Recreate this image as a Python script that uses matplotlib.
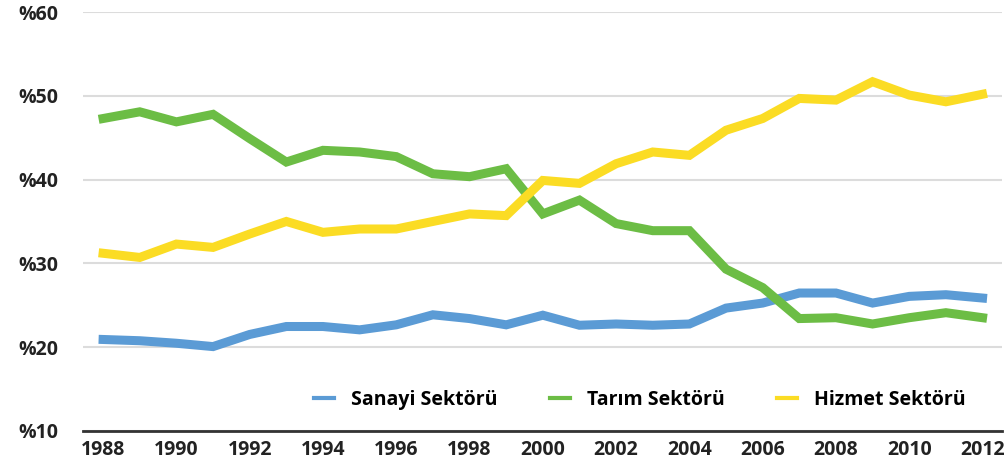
import numpy as np
import matplotlib
matplotlib.use("Agg")
import matplotlib.pyplot as plt

# veriler
yillar = list(range(1988, 2013))
sanayi = [20.9, 20.75, 20.45, 20.05, 21.5, 22.45, 22.45, 22.05, 22.65, 23.85, 23.4, 22.65,
          23.8, 22.6, 22.75, 22.6, 22.75, 24.65, 25.25, 26.45, 26.45, 25.25, 26.05, 26.25, 25.85]
tarim = [47.3, 48.1, 46.9, 47.8, 44.9, 42.1, 43.5, 43.3, 42.75, 40.7, 40.35, 41.3,
         35.9, 37.55, 34.75, 33.9, 33.9, 29.3, 27.1, 23.4, 23.5, 22.75, 23.5, 24.1, 23.5]
hizmet = [31.2, 30.7, 32.3, 31.9, 33.5, 35.0, 33.7, 34.1, 34.1, 35.0, 35.9, 35.7,
          39.9, 39.55, 41.9, 43.3, 42.9, 45.9, 47.3, 49.7, 49.5, 51.7, 50.1, 49.3, 50.2]
etiketler = ["Sanayi Sektörü", "Tarım Sektörü", "Hizmet Sektörü"]
renkler = ["#5b9bd5", "#6cbd45", "#fbdc24"]
y_ticks = [10, 20, 30, 40, 50, 60]
x_ticks = list(range(1988, 2013, 2))

plt.rcParams['font.family'] = ['Open Sans', 'DejaVu Sans']

fig = plt.figure(figsize=(10.08, 4.70), dpi=100)
ax = fig.add_axes([0.0823, 0.0836, 0.9117, 0.8904])

for seri, ad, renk in zip([sanayi, tarim, hizmet], etiketler, renkler):
    ax.plot(yillar, seri, color=renk, lw=6.5, label=ad, solid_joinstyle='miter')

ax.set_xlim(1987.45, 2012.53)
ax.set_ylim(10, 60)
ax.set_yticks(y_ticks)
ax.set_yticklabels(["%" + str(v) for v in y_ticks])
ax.set_xticks(x_ticks)
ax.set_xticklabels([str(v) for v in x_ticks])
ax.grid(axis='y', color='#dcdcdc', lw=1.5)
ax.set_axisbelow(True)
for s in ['top', 'right', 'left']:
    ax.spines[s].set_visible(False)
ax.spines['bottom'].set_color('#333333')
ax.spines['bottom'].set_linewidth(2)
ax.tick_params(axis='both', length=0, labelsize=14, colors='#222222')
ax.tick_params(axis='y', pad=18)
ax.tick_params(axis='x', pad=7)
for t in ax.get_xticklabels() + ax.get_yticklabels():
    t.set_fontweight('bold')

leg = ax.legend(loc='center', bbox_to_anchor=(640 / 1008, 1 - 400 / 470),
                bbox_transform=fig.transFigure, ncol=3, frameon=False,
                handlelength=1.0, handletextpad=0.9, columnspacing=2.7,
                prop={'size': 14, 'weight': 'bold'})
for l in leg.get_lines():
    l.set_linewidth(3)

fig.savefig("out.png", dpi=100)
